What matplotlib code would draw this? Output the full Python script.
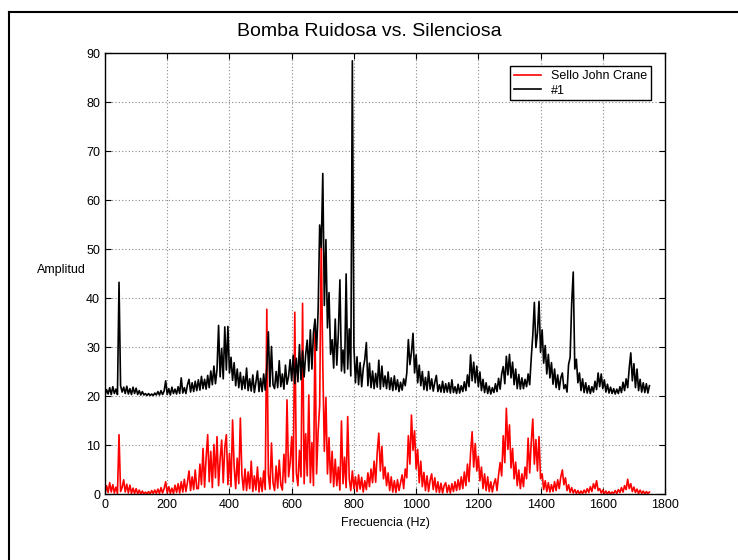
import numpy as np
import matplotlib
matplotlib.use("Agg")
import matplotlib.pyplot as plt
from matplotlib.lines import Line2D

plt.rcParams["font.family"] = ["Liberation Sans", "DejaVu Sans"]

# Espectros muestreados cada 5 Hz (0 - 1750 Hz)
freq_hz = np.arange(0, 1751, 5)

sello_john_crane = [
    0.2, 1.8, 0.4, 2.4, 0.5, 2.0, 0.3, 1.5, 0.2, 12.2, 0.6, 1.4, 3.0, 0.5, 2.1, 0.3, 1.9, 0.2, 1.3, 0.2,
    1.2, 0.1, 0.9, 0.1, 0.7, 0.1, 0.5, 0.1, 0.6, 0.1, 0.8, 0.2, 0.9, 0.2, 1.1, 0.2, 1.4, 0.3, 1.2, 2.6,
    0.3, 1.6, 0.2, 1.3, 0.2, 1.9, 0.4, 2.2, 0.3, 2.6, 0.5, 3.1, 0.6, 2.5, 4.8, 0.8, 3.6, 1.0, 5.0, 1.2,
    1.2, 6.2, 2.0, 9.4, 1.5, 7.5, 12.2, 2.6, 8.8, 1.4, 10.2, 3.4, 11.8, 1.8, 7.2, 11.1, 2.4, 9.6, 12.2, 2.0,
    8.4, 1.6, 15.2, 5.8, 1.2, 7.4, 2.2, 15.6, 4.0, 0.9, 5.2, 0.8, 4.6, 1.2, 6.8, 0.6, 3.8, 0.9, 5.6, 0.5,
    3.4, 0.6, 4.8, 1.0, 37.8, 4.2, 1.1, 10.5, 2.4, 0.8, 5.8, 1.3, 7.0, 2.0, 0.9, 8.2, 2.4, 19.3, 3.6, 6.4,
    11.8, 2.6, 37.2, 4.4, 1.8, 9.0, 3.6, 39.0, 2.2, 12.4, 3.8, 20.3, 2.4, 10.6, 1.8, 33.4, 4.2, 12.8, 18.2, 52.0,
    26.5, 8.8, 19.8, 4.2, 11.6, 2.4, 8.8, 1.6, 7.2, 1.8, 5.6, 0.9, 15.0, 2.2, 7.6, 1.4, 15.9, 3.2, 0.8, 4.8,
    1.2, 3.6, 0.6, 4.0, 1.1, 3.5, 0.5, 2.8, 1.0, 4.4, 1.6, 5.2, 2.4, 6.8, 2.5, 8.6, 12.5, 4.8, 9.8, 3.2,
    5.6, 1.8, 4.4, 0.8, 3.6, 0.5, 2.8, 0.4, 3.0, 0.8, 2.4, 4.0, 1.2, 5.2, 3.4, 12.0, 6.2, 16.2, 9.0, 13.0,
    5.2, 9.2, 2.4, 6.8, 1.6, 4.5, 0.8, 3.8, 0.6, 2.9, 4.2, 1.0, 3.4, 0.5, 2.6, 0.4, 2.3, 0.3, 1.8, 2.4,
    0.4, 1.9, 0.3, 2.2, 0.6, 2.6, 0.8, 3.0, 1.0, 3.6, 1.2, 4.6, 1.8, 6.2, 2.6, 8.4, 12.8, 5.6, 10.4, 4.8,
    7.8, 2.8, 5.6, 1.2, 4.2, 0.8, 3.6, 0.6, 2.6, 0.5, 2.2, 3.2, 0.8, 4.0, 6.5, 3.8, 12.0, 6.5, 17.6, 9.2,
    14.2, 5.4, 9.4, 3.2, 6.6, 1.8, 5.0, 1.2, 4.2, 1.6, 5.6, 3.2, 11.5, 4.4, 10.6, 15.4, 6.2, 11.2, 4.8, 11.8,
    3.2, 4.2, 1.0, 2.8, 0.6, 2.4, 0.5, 2.0, 0.6, 2.6, 0.8, 3.0, 1.2, 3.6, 5.0, 2.0, 3.4, 0.8, 2.0, 0.4,
    1.4, 0.3, 1.0, 0.2, 0.8, 0.1, 0.7, 0.2, 0.9, 0.3, 1.2, 0.4, 1.6, 0.6, 2.2, 1.2, 2.8, 0.8, 1.2, 0.3,
    0.9, 0.2, 0.7, 0.1, 0.6, 0.1, 0.5, 0.2, 0.8, 0.2, 1.0, 0.4, 1.4, 0.5, 1.8, 1.0, 3.1, 1.2, 2.2, 0.6,
    1.5, 0.4, 1.1, 0.2, 0.9, 0.2, 0.7, 0.1, 0.6, 0.2, 0.5,
]

bomba_1 = [
    20.3, 21.4, 20.5, 21.8, 20.4, 22.0, 20.6, 21.5, 20.4, 43.3, 22.2, 20.9, 21.9, 20.6, 22.1, 20.5, 21.6, 20.4, 21.9, 20.6,
    21.7, 20.4, 21.2, 20.3, 21.0, 20.3, 20.6, 20.2, 20.6, 20.2, 20.5, 20.2, 20.7, 20.3, 21.0, 20.3, 21.2, 20.4, 21.1, 23.2,
    20.4, 21.6, 20.3, 21.9, 20.6, 21.5, 20.5, 22.0, 20.6, 23.8, 20.7, 21.8, 20.6, 22.4, 23.5, 20.9, 22.8, 21.0, 23.1, 21.2,
    23.4, 21.3, 24.1, 21.6, 23.5, 21.5, 24.3, 21.8, 25.2, 22.4, 26.2, 22.6, 25.5, 34.5, 24.0, 29.8, 23.6, 34.2, 25.4, 34.3,
    24.8, 28.0, 23.3, 26.9, 22.2, 25.6, 21.8, 24.9, 21.4, 24.1, 21.6, 25.8, 21.2, 23.6, 21.1, 24.4, 20.8, 22.9, 25.2, 21.0,
    23.7, 21.0, 24.6, 21.3, 25.9, 33.2, 22.0, 30.2, 22.4, 21.6, 25.1, 21.8, 27.3, 22.0, 24.6, 21.5, 26.4, 22.5, 24.1, 27.5,
    23.2, 28.4, 22.6, 27.8, 23.0, 30.6, 23.4, 29.3, 24.0, 28.6, 31.5, 25.2, 33.6, 25.6, 33.0, 35.8, 29.4, 37.5, 55.0, 50.4,
    65.5, 38.6, 52.0, 34.0, 41.2, 28.6, 31.6, 25.8, 35.8, 26.4, 32.8, 43.8, 25.2, 29.5, 24.8, 45.0, 25.6, 33.8, 24.2, 88.5,
    30.2, 22.8, 28.1, 22.4, 26.9, 22.0, 25.7, 27.6, 31.0, 22.2, 26.8, 21.8, 25.2, 21.6, 24.7, 21.9, 27.4, 21.5, 26.2, 22.0,
    24.2, 21.6, 25.0, 21.4, 23.8, 21.2, 24.2, 21.4, 23.4, 21.0, 22.9, 21.3, 23.6, 22.2, 24.8, 31.6, 26.5, 29.0, 32.9, 24.8,
    28.5, 22.8, 26.4, 22.2, 25.1, 21.4, 23.9, 21.2, 25.1, 21.5, 23.6, 21.1, 22.9, 24.3, 21.0, 22.4, 20.9, 23.1, 20.8, 22.6,
    20.9, 22.8, 20.7, 23.4, 20.8, 22.0, 20.6, 22.5, 20.7, 22.2, 21.0, 23.0, 21.2, 24.4, 22.0, 28.5, 23.2, 27.0, 22.8, 26.2,
    22.0, 25.0, 21.2, 23.5, 20.8, 22.8, 20.6, 22.1, 20.5, 21.8, 20.8, 22.6, 21.0, 23.7, 21.5, 24.6, 26.1, 22.6, 28.2, 24.4,
    28.6, 23.8, 27.0, 22.4, 25.6, 21.6, 24.5, 21.5, 23.8, 21.6, 23.5, 22.0, 24.6, 22.4, 27.8, 32.5, 39.2, 30.0, 33.0, 39.4,
    29.0, 33.6, 26.8, 30.4, 24.6, 28.6, 23.8, 26.9, 22.5, 25.6, 21.8, 24.4, 21.4, 23.8, 24.8, 21.6, 22.4, 20.9, 26.5, 28.0,
    39.0, 45.4, 25.6, 27.6, 22.8, 24.8, 21.2, 23.6, 20.8, 22.8, 20.7, 22.2, 20.6, 22.0, 20.9, 23.1, 21.4, 24.8, 22.0, 24.6,
    21.6, 23.4, 20.9, 22.5, 20.7, 21.9, 20.6, 21.6, 20.5, 21.5, 20.6, 22.0, 20.8, 22.9, 21.2, 23.6, 21.8, 25.8, 28.9, 23.2,
    26.7, 21.8, 25.6, 21.2, 23.5, 20.9, 22.8, 20.8, 22.6, 20.7, 22.2,
]

fig = plt.figure(figsize=(7.38, 5.6), dpi=100)
ax = fig.add_axes([0.1423, 0.117, 0.7588, 0.7875])

ax.plot(freq_hz, sello_john_crane, color="red", lw=1.2, label="Sello John Crane")
ax.plot(freq_hz, bomba_1, color="black", lw=1.2, label="#1")

ax.set_xlim(0, 1800)
ax.set_ylim(0, 90)
ax.set_xticks(np.arange(0, 1801, 200))
ax.set_yticks(np.arange(0, 91, 10))
ax.grid(True, color="#888888", linestyle=(0, (1, 2)), linewidth=0.8)
ax.tick_params(direction="in", top=True, right=True, length=4, labelsize=9)
for s in ax.spines.values():
    s.set_linewidth(1.0)

ax.set_xlabel("Frecuencia (Hz)", fontsize=9)
fig.text(0.083, 0.518, "Amplitud", fontsize=9, ha="center", va="center")
fig.text(0.5, 0.943, "Bomba Ruidosa vs. Silenciosa", fontsize=14, ha="center", va="center")

leg = ax.legend(loc="upper right", bbox_to_anchor=(0.986, 0.985), fontsize=9,
                fancybox=False, framealpha=1, edgecolor="black", handlelength=2.2,
                borderpad=0.3, labelspacing=0.2, handletextpad=0.8)
leg.get_frame().set_linewidth(1.0)

# marco exterior de la figura
fig.add_artist(Line2D([0.012, 1.0], [0.978, 0.978], color="black", lw=1.5))
fig.add_artist(Line2D([0.012, 0.012], [0.0, 0.978], color="black", lw=1.5))

fig.savefig("out.png", dpi=100)
